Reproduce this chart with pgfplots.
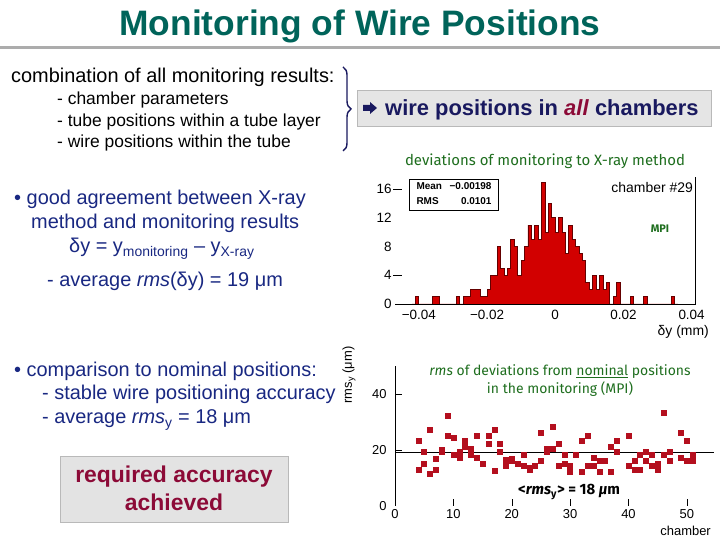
\documentclass[border=0pt]{standalone}
\usepackage{pgfplots}
\pgfplotsset{compat=1.18}
\usepackage{fontspec}
\setmainfont{Liberation Sans}
\newfontfamily\notefont{Fira Sans}
\usetikzlibrary{decorations.pathreplacing}

\definecolor{titleteal}{RGB}{0,100,90}
\definecolor{bodyblue}{RGB}{25,40,130}
\definecolor{navy}{RGB}{25,25,95}
\definecolor{crimson}{RGB}{140,10,55}
\definecolor{notegreen}{RGB}{30,110,30}
\definecolor{histred}{RGB}{210,0,0}
\definecolor{histdark}{RGB}{100,0,0}
\definecolor{ptred}{RGB}{180,15,30}

\pgfplotsset{/pgf/number format/assume math mode=true}

\pgfplotstableread{
x       y
-0.042  0
-0.041  1
-0.040  0
-0.036  1
-0.034  0
-0.029  1
-0.028  0
-0.027  1
-0.026  1
-0.025  2
-0.024  2
-0.023  2
-0.022  1
-0.021  1
-0.020  2
-0.019  4
-0.018  4
-0.017  8
-0.016  5
-0.015  4
-0.014  5
-0.013  9
-0.012  8
-0.011  4
-0.010  6
-0.009  8
-0.008  11
-0.007  9
-0.006  11
-0.005  9
-0.004  17
-0.003  10
-0.002  14
-0.001  12
0.000   10
0.001   12
0.002   10
0.003   7
0.004   11
0.005   9
0.006   8
0.007   7
0.008   6
0.009   3
0.010   2
0.011   4
0.012   2
0.013   4
0.014   2
0.015   3
0.016   0
0.017   1
0.018   3
0.019   0
0.022   1
0.023   0
0.026   1
0.027   0
0.034   1
0.035   0
0.036   0
}\histdata

\pgfplotstableread{
ch  rms
4   23.4
4   13.1
5   19.3
5   15.3
6   27.4
6   11.4
7   17.1
7   13.1
8   20.2
8   19.5
9   32.5
9   25.3
10  24.6
10  18.3
11  19.3
11  17.3
12  23.4
12  21.3
13  20.4
13  18.3
14  25.3
14  17.3
15  15.3
16  25.3
16  22.3
17  27.4
17  12.5
18  22.3
18  19.3
19  16.5
19  14.3
20  17.1
20  16.1
21  15.3
22  18.3
22  14.3
23  13.7
23  13.1
24  14.3
25  16.2
25  26.2
26  20.4
26  19.3
27  28.4
27  20.4
28  22.3
28  14.3
29  18.3
29  15.3
30  14.3
30  12.2
31  18.3
32  23.4
32  12.2
33  25.3
33  14.3
34  14.3
34  17.3
35  16.2
35  12.2
36  16.2
37  12.2
37  21.3
38  23.4
38  19.3
40  25.3
40  14.3
41  16.2
41  13.1
42  18.3
42  13.1
43  19.3
43  16.2
44  18.3
44  14.3
45  15.3
45  13.1
46  33.5
46  18.3
47  19.3
47  16.2
49  26.2
49  17.3
50  23.4
50  16.2
51  18.3
51  16.2
}\scatterdata

\begin{document}
\begin{tikzpicture}[x=1bp,y=1bp]
\fill[white] (0,0) rectangle (720,540);
\path[use as bounding box] (0,0) rectangle (720,540);

% ---- header ----
\node[font=\fontsize{35.5}{40}\selectfont\bfseries, text=titleteal] at (360,514) {Monitoring of Wire Positions};
\fill[gray!65] (0,491) rectangle (720,494);

\begin{scope}[every node/.style={anchor=base west, inner sep=0pt}]
\node[font=\fontsize{20}{24}\selectfont] at (11,457) {combination of all monitoring results:};
\node[font=\fontsize{17.5}{21}\selectfont] at (57,435) {- chamber parameters};
\node[font=\fontsize{17.5}{21}\selectfont] at (57,413) {- tube positions within a tube layer};
\node[font=\fontsize{17.5}{21}\selectfont] at (57,392) {- wire positions within the tube};
\end{scope}
\draw[navy, line width=1.4bp, decorate, decoration={brace, amplitude=8bp}] (343,473) -- (343,389);

\draw[fill=gray!20, draw=gray!55] (357,414) rectangle (711,450);
\fill[navy] (363,429) -- (370,429) -- (370,426) -- (377,432) -- (370,438) -- (370,435) -- (363,435) -- cycle;
\node[anchor=base west, inner sep=0pt, font=\fontsize{22}{26}\selectfont\bfseries, text=navy] at (385,424)
  {wire positions in \textcolor{crimson}{\textit{all}} chambers};

% ---- left column ----
\begin{scope}[every node/.style={anchor=base west, inner sep=0pt, text=bodyblue, font=\fontsize{20}{24}\selectfont}]
\node at (14,335) {\textbullet\ good agreement between X-ray};
\node at (31,311) {method and monitoring results};
\node at (69,287) {δy = y\textsubscript{\fontsize{14}{16}\selectfont monitoring} – y\textsubscript{\fontsize{14}{16}\selectfont X-ray}};
\node at (47,253) {- average \textit{rms}(δy) = 19 μm};
\node at (14,163) {\textbullet\ comparison to nominal positions:};
\node at (42,140) {- stable wire positioning accuracy};
\node at (42,116) {- average \textit{rms}\textsubscript{y} = 18 μm};
\end{scope}
\draw[fill=gray!22, draw=gray!55] (60,18) rectangle (288,84);
\node[font=\fontsize{23}{27}\selectfont\bfseries, text=crimson, anchor=base] at (174,57) {required accuracy};
\node[font=\fontsize{23}{27}\selectfont\bfseries, text=crimson, anchor=base] at (174,29) {achieved};

% ---- histogram ----
\begin{axis}[
  at={(395bp,236bp)}, anchor=south west, scale only axis,
  width=300bp, height=127bp,
  xmin=-0.047, xmax=0.041, ymin=0, ymax=17.7,
  axis line style={draw=none},
  scaled x ticks=false,
  xtick={-0.04,-0.02,0,0.02,0.04},
  xticklabels={−0.04,−0.02,0,0.02,0.04},
  ytick={0,4,8,12,16},
  ytick pos=left,
  tick style={draw=none},
  tick label style={font=\fontsize{13.5}{15}\selectfont},
  xticklabel style={yshift=-3bp},
  clip=false]
\addplot[const plot, fill=histred, draw=histdark, line width=0.9bp] table[x=x, y=y] {\histdata} \closedcycle;
\draw[black, line width=0.8bp] (rel axis cs:0,0) -- (rel axis cs:1,0) -- (rel axis cs:1,1);
\draw[black, thin] ([xshift=-2bp]rel axis cs:0,0.226) -- ([xshift=7bp]rel axis cs:0,0.226);
\draw[black, thin] ([xshift=-2bp]rel axis cs:0,0.904) -- ([xshift=7bp]rel axis cs:0,0.904);
\end{axis}

\draw[black, line width=0.8bp] (409,330) rectangle (498,361);
\node[anchor=base west, font=\fontsize{10}{12}\selectfont\bfseries] at (413,350) {Mean};
\node[anchor=base east, font=\fontsize{10}{12}\selectfont\bfseries] at (495,350) {−0.00198};
\node[anchor=base west, font=\fontsize{10}{12}\selectfont\bfseries] at (413,335) {RMS};
\node[anchor=base east, font=\fontsize{10}{12}\selectfont\bfseries] at (495,335) {0.0101};
\node[anchor=base east, inner sep=0pt, font=\fontsize{14}{16}\selectfont] at (693,347) {chamber \#29};
\node[font=\notefont\fontsize{11}{13}\selectfont\bfseries, text=notegreen] at (660,311) {MPI};
\node[font=\notefont\fontsize{15}{17}\selectfont, text=notegreen] at (545,379) {deviations of monitoring to X-ray method};
\node[anchor=base east, inner sep=0pt, font=\fontsize{14}{16}\selectfont] at (709,204) {δy (mm)};

% ---- scatter ----
\begin{axis}[
  at={(395bp,34bp)}, anchor=south west, scale only axis,
  width=321bp, height=139.5bp,
  xmin=0, xmax=55, ymin=0, ymax=50,
  axis line style={draw=none},
  xtick={0,10,20,30,40,50}, ytick={0,20,40},
  tick style={draw=none},
  tick label style={font=\fontsize{13}{15}\selectfont},
  yticklabel style={xshift=-5bp},
  clip=false]
\addplot[black, line width=0.8bp] coordinates {(0,19.3) (54.6,19.3)};
\addplot[only marks, mark=square*, mark size=2.5bp, color=ptred] table[x=ch, y=rms] {\scatterdata};
\draw[black, line width=0.8bp] (rel axis cs:0,0) -- (rel axis cs:0,1);
\pgfplotsinvokeforeach{10,20,30,40,50}{\draw[black, thin] (axis cs:#1,0) -- ++(0,7bp);}
\pgfplotsinvokeforeach{20,40}{\draw[black, thin] (axis cs:0,#1) -- ++(7bp,0);}
\end{axis}

\node[font=\notefont\fontsize{14}{16}\selectfont, text=notegreen] at (560,168) {\textit{rms} of deviations from \underline{nominal} positions};
\node[font=\notefont\fontsize{14}{16}\selectfont, text=notegreen] at (560,151) {in the monitoring (MPI)};
\node[font=\notefont\fontsize{15}{17}\selectfont\bfseries] at (569,48) {<\textit{rms}\textsubscript{y}> = 18 \textit{μ}m};
\node[anchor=base east, inner sep=0pt, font=\fontsize{13}{15}\selectfont] at (711,4) {chamber};
\node[rotate=90, font=\fontsize{13}{15}\selectfont] at (349,165) {rms\textsubscript{y} (μm)};
\end{tikzpicture}
\end{document}
